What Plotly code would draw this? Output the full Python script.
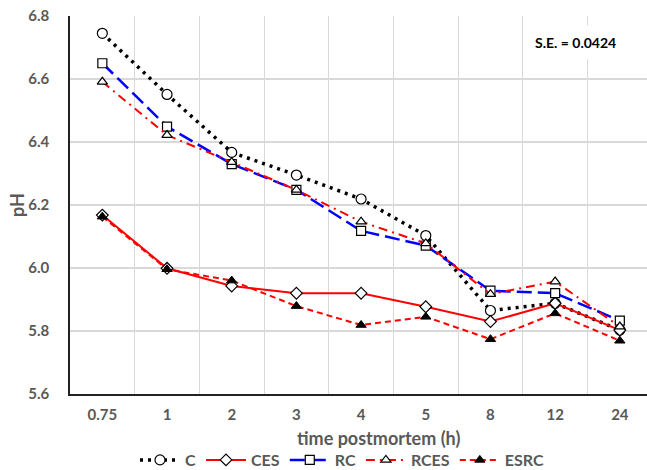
import plotly.graph_objects as go

categories = ["0.75", "1", "2", "3", "4", "5", "8", "12", "24"]
c_vals = [6.745, 6.551, 6.367, 6.295, 6.219, 6.103, 5.865, 5.888, 5.803]
ces_vals = [6.168, 5.999, 5.943, 5.920, 5.920, 5.877, 5.830, 5.888, 5.803]
rc_vals = [6.650, 6.449, 6.330, 6.248, 6.118, 6.071, 5.928, 5.920, 5.833]
rces_vals = [6.591, 6.422, 6.336, 6.248, 6.147, 6.078, 5.917, 5.957, 5.814]
esrc_vals = [6.163, 5.996, 5.960, 5.879, 5.819, 5.845, 5.774, 5.856, 5.769]
y_ticks = [5.6, 5.8, 6.0, 6.2, 6.4, 6.6, 6.8]

W, H = 647, 470
L, T, B = 70, 16, 76
PW, PH = W - L, H - T - B

FONT = "Lato"
GREY = "#595959"

fig = go.Figure()
fig.add_trace(go.Scatter(x=categories, y=c_vals, name="C", mode="lines+markers",
                         line=dict(color="black", width=3.5, dash="3px,5px"),
                         marker=dict(symbol="circle", size=10, color="white",
                                     line=dict(color="black", width=1.2))))
fig.add_trace(go.Scatter(x=categories, y=ces_vals, name="CES", mode="lines+markers",
                         line=dict(color="#ff0000", width=2),
                         marker=dict(symbol="diamond", size=9, color="white",
                                     line=dict(color="black", width=1.2))))
fig.add_trace(go.Scatter(x=categories, y=rc_vals, name="RC", mode="lines+markers",
                         line=dict(color="#0000ff", width=2.5, dash="15px,6px"),
                         marker=dict(symbol="square", size=9, color="white",
                                     line=dict(color="black", width=1.2))))
fig.add_trace(go.Scatter(x=categories, y=rces_vals, name="RCES", mode="lines+markers",
                         line=dict(color="#ff0000", width=2, dash="9px,5px,2px,5px"),
                         marker=dict(symbol="triangle-up", size=9, color="white",
                                     line=dict(color="black", width=1.2))))
fig.add_trace(go.Scatter(x=categories, y=esrc_vals, name="ESRC", mode="lines+markers",
                         line=dict(color="#ff0000", width=2, dash="6px,4px"),
                         marker=dict(symbol="triangle-up", size=9, color="black",
                                     line=dict(color="black", width=1))))

fig.add_annotation(text="S.E. = 0.0424", xref="paper", yref="paper",
                   x=(575 - L) / PW, y=(H - B - 42) / PH, xanchor="center", yanchor="middle",
                   showarrow=False, font=dict(family=FONT, size=14, color="black", weight="bold"),
                   bgcolor="white", borderpad=8)
fig.add_annotation(text="time postmortem (h)", xref="paper", yref="paper",
                   x=(378 - L) / PW, y=(H - B - 438) / PH, xanchor="center", yanchor="middle",
                   showarrow=False, font=dict(family=FONT, size=18, color=GREY, weight="bold"))
fig.add_annotation(text="pH", xref="paper", yref="paper", textangle=-90,
                   x=(17 - L) / PW, y=(H - B - 205) / PH, xanchor="center", yanchor="middle",
                   showarrow=False, font=dict(family=FONT, size=18, color=GREY, weight="bold"))

fig.update_layout(
    width=W, height=H,
    margin=dict(l=L, r=0, t=T, b=B, autoexpand=False),
    paper_bgcolor="white", plot_bgcolor="white",
    font=dict(family=FONT, color=GREY),
    showlegend=True,
    legend=dict(orientation="h", x=(342 - L) / PW, xanchor="center",
                y=(H - B - 460) / PH, yanchor="middle",
                font=dict(family=FONT, size=16, color=GREY, weight="bold"), itemwidth=40,
                traceorder="normal"),
    xaxis=dict(type="category", range=[-0.5, 8.42], tickson="boundaries",
               showgrid=True, gridcolor="#d9d9d9", gridwidth=1,
               showline=True, linecolor="#222222", linewidth=1.5,
               ticks="", tickfont=dict(family=FONT, size=15, color=GREY, weight="bold"),
               ticklabelstandoff=6, zeroline=False),
    yaxis=dict(range=[5.6, 6.8], tickvals=y_ticks, tickformat=".1f",
               showgrid=True, gridcolor="#d9d9d9", gridwidth=1.5,
               showline=True, linecolor="#222222", linewidth=1.5,
               ticks="", tickfont=dict(family=FONT, size=15, color=GREY, weight="bold"),
               ticklabelstandoff=16, zeroline=False),
)

fig.write_html("out.html")
